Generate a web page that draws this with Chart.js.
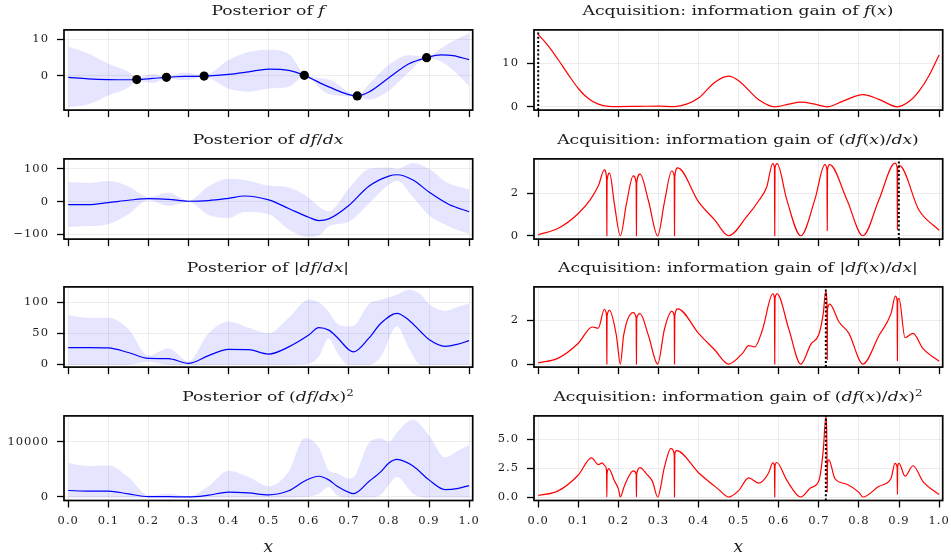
<!DOCTYPE html>
<html>
<head>
<meta charset="utf-8">
<title>Posterior and acquisition</title>
<script src="https://cdn.jsdelivr.net/npm/chart.js@4.4.1/dist/chart.umd.min.js"></script>
<style>
  html, body { margin: 0; padding: 0; background: #fff; }
  body { position: relative; width: 951px; height: 554px; overflow: hidden; font-family: 'DejaVu Serif', serif; color: #1a1a1a; }
  canvas { position: absolute; }
  .title { position: absolute; white-space: nowrap; font-size: 13px; line-height: 16px; transform: translateX(-50%) scaleX(1.32); }
  .title sup { font-size: 9px; line-height: 0; vertical-align: 5px; }
  .xlabel { position: absolute; font-size: 17px; font-style: italic; line-height: 20px; transform: translateX(-50%); }
</style>
</head>
<body>
<script>
const xTicks = [0, 0.1, 0.2, 0.3, 0.4, 0.5, 0.6, 0.7, 0.8, 0.9, 1.0];

// observed points
const obsX = [0.171, 0.245, 0.339, 0.589, 0.721, 0.894];
const obsY = [-1.0, -0.4, -0.05, 0.15, -5.45, 4.95];

// Posterior of f
const fX     = [0, 0.05, 0.1, 0.15, 0.171, 0.21, 0.245, 0.29, 0.339, 0.4, 0.45, 0.5, 0.55, 0.589, 0.65, 0.721, 0.75, 0.8, 0.85, 0.894, 0.93, 0.96, 1.0];
const fMean  = [-0.4, -0.8, -1.0, -1.05, -1.0, -0.7, -0.4, -0.15, -0.05, 0.4, 1.1, 1.85, 1.5, 0.15, -3.0, -5.45, -4.4, -0.5, 3.3, 4.95, 5.7, 5.5, 4.4];
const fUpper = [7.9, 6.1, 3.3, 1.15, -0.6, 0.5, -0.15, 0.9, 0.15, 4.3, 6.5, 7.1, 6.0, 0.5, -1.0, -5.2, -2.3, 3.0, 5.6, 5.2, 7.5, 9.5, 11.6];
const fLower = [-8.6, -7.7, -5.3, -3.25, -1.4, -1.9, -0.65, -1.2, -0.25, -3.5, -4.3, -3.4, -3.0, -0.2, -5.0, -5.7, -6.5, -4.0, 1.0, 4.7, 3.9, 1.5, -2.8];

// Posterior of df/dx
const dfX     = [0, 0.05, 0.1, 0.15, 0.2, 0.25, 0.3, 0.35, 0.4, 0.44, 0.5, 0.55, 0.6, 0.625, 0.65, 0.7, 0.75, 0.8, 0.82, 0.86, 0.9, 0.95, 1.0];
const dfMean  = [-9, -9, -3, 4, 9, 7, 1, 3, 10, 17, 5, -21, -48, -58, -53, -12, 47, 78, 82, 66, 29, -9, -31];
const dfUpper = [60, 57, 63, 47, 14, 27, 3, 47, 70, 66, 49, 43, 12, -15, -30, 40, 100, 104, 100, 118, 100, 55, 37];
const dfLower = [-78, -75, -69, -39, 4, -13, -1, -41, -50, -32, -39, -85, -108, -104, -76, -62, -6, 52, 64, 14, -42, -76, -99];

// Posterior of |df/dx|
const absX     = [0, 0.05, 0.1, 0.15, 0.2, 0.25, 0.3, 0.35, 0.4, 0.45, 0.5, 0.55, 0.6, 0.625, 0.65, 0.67, 0.7, 0.712, 0.75, 0.78, 0.82, 0.85, 0.88, 0.9, 0.94, 0.97, 1.0];
const absMean  = [27, 27, 26.5, 19, 9.5, 9, 1.5, 14, 24, 23.5, 16.5, 28, 47, 59, 55, 44, 23.5, 20, 42, 66, 82, 71, 52, 40, 29, 32, 38];
const absUpper = [79, 75, 75, 57, 14, 26, 5, 50, 69, 59, 50, 75, 104, 100, 84, 66, 61, 62, 97, 104, 112, 120, 112, 97, 86, 92, 98];
const absLower = [-1, -1, -1, -1, 4, -1, -1, -1, -1, -1, -1, -1, 1, 12, 42, 20, -1, -1, -1, 12, 61, 26, -1, -1, -1, -1, -1];

// Posterior of (df/dx)^2
const sqX     = [0, 0.05, 0.1, 0.15, 0.2, 0.25, 0.3, 0.35, 0.4, 0.45, 0.5, 0.55, 0.59, 0.625, 0.65, 0.67, 0.7, 0.712, 0.75, 0.78, 0.8, 0.82, 0.86, 0.9, 0.94, 0.97, 1.0];
const sqMean  = [1170, 1060, 1060, 560, 60, 60, 0, 330, 890, 730, 390, 1120, 2900, 3750, 3100, 2000, 840, 620, 2800, 4600, 6150, 6800, 5600, 3100, 1340, 1500, 2070];
const sqUpper = [6150, 5600, 5700, 3600, 300, 600, 170, 1950, 4750, 3600, 1950, 4600, 10700, 9000, 4800, 4300, 3350, 3600, 9800, 10600, 9950, 11700, 14000, 11200, 7200, 8300, 9400];
const sqLower = [-100, -100, -100, -100, -100, -100, -100, -100, -100, -100, -100, -100, 0, 560, 1800, 300, -100, -100, -100, 400, 2200, 3600, 600, -100, -100, -100, -100];

// Acquisition: information gain of f(x)
const acqFX = [0, 0.025, 0.05, 0.075, 0.1, 0.125, 0.15, 0.175, 0.2, 0.25, 0.3, 0.34, 0.37, 0.4, 0.44, 0.475, 0.5, 0.55, 0.59, 0.625, 0.655, 0.69, 0.721, 0.76, 0.81, 0.85, 0.896, 0.925, 0.95, 0.975, 1.0];
const acqFY = [16.6, 14.0, 10.8, 7.4, 4.2, 1.9, 0.6, 0.1, 0.05, 0.1, 0.15, 0.05, 0.6, 2.0, 5.6, 7.05, 6.0, 1.6, 0.0, 0.6, 1.05, 0.6, 0.0, 1.3, 2.8, 1.7, 0.0, 1.2, 3.6, 7.2, 11.9];

// Acquisition: information gain of (df(x)/dx)
const acqDfX = [0, 0.05, 0.1, 0.13, 0.15, 0.165, 0.1705, 0.1712, 0.1718, 0.178, 0.19, 0.205, 0.22, 0.237, 0.2443, 0.245, 0.2457, 0.254, 0.275, 0.298, 0.315, 0.333, 0.3393, 0.34, 0.3407, 0.348, 0.4, 0.44, 0.475, 0.52, 0.55, 0.57, 0.585, 0.5893, 0.59, 0.5907, 0.596, 0.62, 0.655, 0.69, 0.715, 0.7203, 0.721, 0.7217, 0.727, 0.77, 0.81, 0.85, 0.89, 0.8953, 0.896, 0.8967, 0.901, 0.95, 1.0];
const acqDfY = [0.05, 0.35, 1.05, 1.7, 2.35, 3.1, 2.7, 0, 2.6, 2.95, 1.5, 0, 1.5, 2.82, 2.5, 0, 2.5, 2.9, 1.65, 0, 1.6, 3.05, 2.8, 0, 2.8, 3.2, 1.6, 0.75, 0, 0.9, 1.65, 2.3, 3.4, 3.2, 0, 3.2, 3.4, 1.7, 0, 1.7, 3.35, 3.1, 0.25, 3.1, 3.35, 1.7, 0, 1.7, 3.42, 3.2, 0.3, 3.2, 3.3, 1.2, 0.26];

// Acquisition: information gain of |df(x)/dx|
const acqAbsX = [0, 0.05, 0.1, 0.135, 0.15, 0.165, 0.1705, 0.1712, 0.1718, 0.178, 0.195, 0.205, 0.213, 0.237, 0.2443, 0.245, 0.2457, 0.254, 0.275, 0.298, 0.315, 0.333, 0.3393, 0.34, 0.3407, 0.348, 0.4, 0.44, 0.475, 0.51, 0.525, 0.54, 0.56, 0.585, 0.5893, 0.59, 0.5907, 0.596, 0.625, 0.655, 0.68, 0.7, 0.711, 0.717, 0.7203, 0.721, 0.7217, 0.727, 0.75, 0.775, 0.81, 0.85, 0.88, 0.891, 0.8953, 0.896, 0.8967, 0.9, 0.915, 0.935, 0.96, 1.0];
const acqAbsY = [0.05, 0.27, 0.95, 1.69, 1.64, 2.5, 2.2, 0, 2.2, 2.45, 1.3, 0, 1.3, 2.35, 2.1, 0, 2.1, 2.3, 1.3, 0, 1.6, 2.4, 2.2, 0, 2.2, 2.52, 1.4, 0.65, 0, 0.5, 0.84, 0.78, 1.6, 3.2, 3.0, 0, 3.0, 3.2, 1.6, 0, 0.9, 1.35, 2.3, 3.3, 2.8, 0.2, 2.5, 2.73, 1.93, 1.4, 0, 1.3, 2.3, 3.1, 2.9, 0.15, 2.9, 3.0, 1.2, 1.4, 0.7, 0.13];

// Acquisition: information gain of (df(x)/dx)^2
const acqSqX = [0, 0.05, 0.1, 0.133, 0.15, 0.16, 0.166, 0.1705, 0.1712, 0.1718, 0.176, 0.19, 0.2, 0.205, 0.215, 0.237, 0.2443, 0.245, 0.2457, 0.254, 0.27, 0.285, 0.298, 0.315, 0.331, 0.3393, 0.34, 0.3407, 0.345, 0.4, 0.45, 0.475, 0.5, 0.525, 0.55, 0.575, 0.585, 0.5893, 0.59, 0.5907, 0.595, 0.62, 0.655, 0.68, 0.7, 0.711, 0.7175, 0.7203, 0.721, 0.7217, 0.725, 0.74, 0.77, 0.8, 0.81, 0.85, 0.88, 0.89, 0.8953, 0.896, 0.8967, 0.9, 0.915, 0.935, 0.96, 1.0];
const acqSqY = [0.13, 0.53, 1.9, 3.38, 2.8, 2.95, 2.7, 2.3, 0, 2.0, 2.45, 1.4, 0.7, 0, 0.95, 2.26, 2.0, 0, 2.0, 2.53, 2.0, 1.35, 0, 2.6, 4.2, 3.7, 0, 3.7, 4.0, 2.1, 0.66, 0, 0.55, 1.65, 1.2, 2.1, 2.95, 2.7, 0, 2.7, 2.98, 1.46, 0, 0.8, 1.4, 4.0, 6.9, 4.0, 0.4, 2.8, 3.2, 1.6, 1.1, 0.4, 0, 0.93, 1.6, 2.9, 2.6, 0.2, 2.6, 2.9, 1.8, 2.7, 1.33, 0.21];

// location of the acquisition maximum (dotted line) for each right panel
const acqArgmax = [0.0, 0.8995, 0.7175, 0.7175];

// axis limits and ticks
const fYLim = [-9.3, 12.5],       fYTicks = [0, 10];
const dfYLim = [-114.7, 130.5],   dfYTicks = [-100, 0, 100];
const absYLim = [-4.5, 124.6],    absYTicks = [0, 50, 100];
const sqYLim = [-640, 14690],     sqYTicks = [0, 10000];
const acqFYLim = [-0.76, 17.65],  acqFYTicks = [0, 10];
const acqDfYLim = [-0.157, 3.62], acqDfYTicks = [0, 2];
const acqAbsYLim = [-0.14, 3.52], acqAbsYTicks = [0, 2];
const acqSqYLim = [-0.3, 7.0],    acqSqYTicks = [0, 2.5, 5.0];

const leftTitles = [
  'Posterior of <i>f</i>',
  'Posterior of <i>df</i>/<i>dx</i>',
  'Posterior of |<i>df</i>/<i>dx</i>|',
  'Posterior of (<i>df</i>/<i>dx</i>)<sup>2</sup>'
];
const rightTitles = [
  'Acquisition: information gain of <i>f</i>(<i>x</i>)',
  'Acquisition: information gain of (<i>df</i>(<i>x</i>)/<i>dx</i>)',
  'Acquisition: information gain of |<i>df</i>(<i>x</i>)/<i>dx</i>|',
  'Acquisition: information gain of (<i>df</i>(<i>x</i>)/<i>dx</i>)<sup>2</sup>'
];

// ---- layout ----
const frameTops = [23.3, 152, 280.3, 409];
const frameH = 91.5;
const columns = [
  { canvasLeft: 0, frameLeft: 64, frameRight: 472.7 },
  { canvasLeft: 478, frameLeft: 534, frameRight: 942.7 }
];
const gridColor = 'rgba(0, 0, 0, 0.07)';
const tickFont = { family: 'DejaVu Serif', size: 11.5 };

Chart.defaults.font.family = 'DejaVu Serif';

const framePlugin = {
  id: 'frame',
  beforeDraw(chart) {
    chart.ctx.letterSpacing = '1px';
  },
  afterDraw(chart) {
    const { ctx, chartArea: a } = chart;
    ctx.save();
    ctx.strokeStyle = '#000';
    ctx.lineWidth = 1.7;
    ctx.strokeRect(a.left, a.top, a.right - a.left, a.bottom - a.top);
    ctx.restore();
  }
};

function points(xs, ys) {
  return xs.map((x, i) => ({ x: x, y: ys[i] }));
}

function bandDatasets(xs, mean, upper, lower) {
  return [
    { data: points(xs, upper), borderColor: 'transparent', borderWidth: 0, pointRadius: 0, fill: false, cubicInterpolationMode: 'monotone', order: 3 },
    { data: points(xs, lower), borderColor: 'transparent', borderWidth: 0, pointRadius: 0, fill: '-1', backgroundColor: 'rgba(0, 0, 255, 0.1)', cubicInterpolationMode: 'monotone', order: 2 },
    { data: points(xs, mean), borderColor: '#0000ff', borderWidth: 1.2, pointRadius: 0, fill: false, cubicInterpolationMode: 'monotone', order: 1 }
  ];
}

function acqDatasets(xs, ys, argmax, yLim) {
  return [
    { data: points(xs, ys), borderColor: '#ff0000', borderWidth: 1.2, pointRadius: 0, fill: false, cubicInterpolationMode: 'monotone', order: 1 },
    { data: [{ x: argmax, y: yLim[0] }, { x: argmax, y: yLim[1] }], borderColor: '#000', borderWidth: 2, borderDash: [2, 2.2], pointRadius: 0, fill: false, order: 0 }
  ];
}

function plainFmt(v) { return String(v); }
function minusFmt(v) { return v < 0 ? '\u2212' + Math.abs(v) : String(v); }
function oneDecFmt(v) { return v.toFixed(1); }

function addPanel(col, row, datasets, yLim, yTicks, yFmt, title) {
  const c = columns[col];
  const top = frameTops[row];
  const canvasTop = Math.floor(top - 8);
  const padTop = top - canvasTop;
  const width = Math.ceil(c.frameRight - c.canvasLeft + 17);
  const height = Math.ceil(padTop + frameH + (row === 3 ? 40 : 10));
  const xAxisH = height - padTop - frameH;

  const canvas = document.createElement('canvas');
  canvas.width = width;
  canvas.height = height;
  canvas.style.left = c.canvasLeft + 'px';
  canvas.style.top = canvasTop + 'px';
  canvas.style.width = width + 'px';
  canvas.style.height = height + 'px';
  document.body.appendChild(canvas);

  new Chart(canvas, {
    type: 'line',
    data: { datasets: datasets },
    options: {
      responsive: false,
      animation: false,
      events: [],
      layout: { padding: { top: padTop, right: width - (c.frameRight - c.canvasLeft), bottom: 0, left: 0 } },
      plugins: { legend: { display: false }, tooltip: { enabled: false } },
      scales: {
        x: {
          type: 'linear',
          min: -0.0105,
          max: 1.009,
          afterBuildTicks: s => { s.ticks = xTicks.map(v => ({ value: v })); },
          afterFit: s => { s.height = xAxisH; },
          border: { display: false },
          grid: { color: gridColor, lineWidth: 1, tickColor: '#000', tickLength: 7, tickWidth: 1.3 },
          ticks: { display: row === 3, autoSkip: false, maxRotation: 0, padding: 7, font: tickFont, color: '#1a1a1a', callback: v => v.toFixed(1) }
        },
        y: {
          min: yLim[0],
          max: yLim[1],
          afterBuildTicks: s => { s.ticks = yTicks.map(v => ({ value: v })); },
          afterFit: s => { s.width = c.frameLeft - c.canvasLeft; },
          border: { display: false },
          grid: { color: gridColor, lineWidth: 1, tickColor: '#000', tickLength: 7, tickWidth: 1.3 },
          ticks: { padding: 8, font: tickFont, color: '#1a1a1a', callback: yFmt }
        }
      }
    },
    plugins: [framePlugin]
  });

  const t = document.createElement('div');
  t.className = 'title';
  t.innerHTML = title;
  t.style.left = ((c.frameLeft + c.frameRight) / 2) + 'px';
  t.style.top = (top - 20) + 'px';
  document.body.appendChild(t);

  if (row === 3) {
    const xl = document.createElement('div');
    xl.className = 'xlabel';
    xl.textContent = 'x';
    xl.style.left = ((c.frameLeft + c.frameRight) / 2) + 'px';
    xl.style.top = '536px';
    document.body.appendChild(xl);
  }
}

// left column: posteriors
const fSets = bandDatasets(fX, fMean, fUpper, fLower);
fSets.push({ type: 'scatter', data: points(obsX, obsY), showLine: false, pointRadius: 4.6, pointBackgroundColor: '#000', pointBorderColor: '#000', borderWidth: 0, order: 0 });
addPanel(0, 0, fSets, fYLim, fYTicks, plainFmt, leftTitles[0]);
addPanel(0, 1, bandDatasets(dfX, dfMean, dfUpper, dfLower), dfYLim, dfYTicks, minusFmt, leftTitles[1]);
addPanel(0, 2, bandDatasets(absX, absMean, absUpper, absLower), absYLim, absYTicks, plainFmt, leftTitles[2]);
addPanel(0, 3, bandDatasets(sqX, sqMean, sqUpper, sqLower), sqYLim, sqYTicks, plainFmt, leftTitles[3]);

// right column: acquisition functions
addPanel(1, 0, acqDatasets(acqFX, acqFY, acqArgmax[0], acqFYLim), acqFYLim, acqFYTicks, plainFmt, rightTitles[0]);
addPanel(1, 1, acqDatasets(acqDfX, acqDfY, acqArgmax[1], acqDfYLim), acqDfYLim, acqDfYTicks, plainFmt, rightTitles[1]);
addPanel(1, 2, acqDatasets(acqAbsX, acqAbsY, acqArgmax[2], acqAbsYLim), acqAbsYLim, acqAbsYTicks, plainFmt, rightTitles[2]);
addPanel(1, 3, acqDatasets(acqSqX, acqSqY, acqArgmax[3], acqSqYLim), acqSqYLim, acqSqYTicks, oneDecFmt, rightTitles[3]);
</script>
</body>
</html>
